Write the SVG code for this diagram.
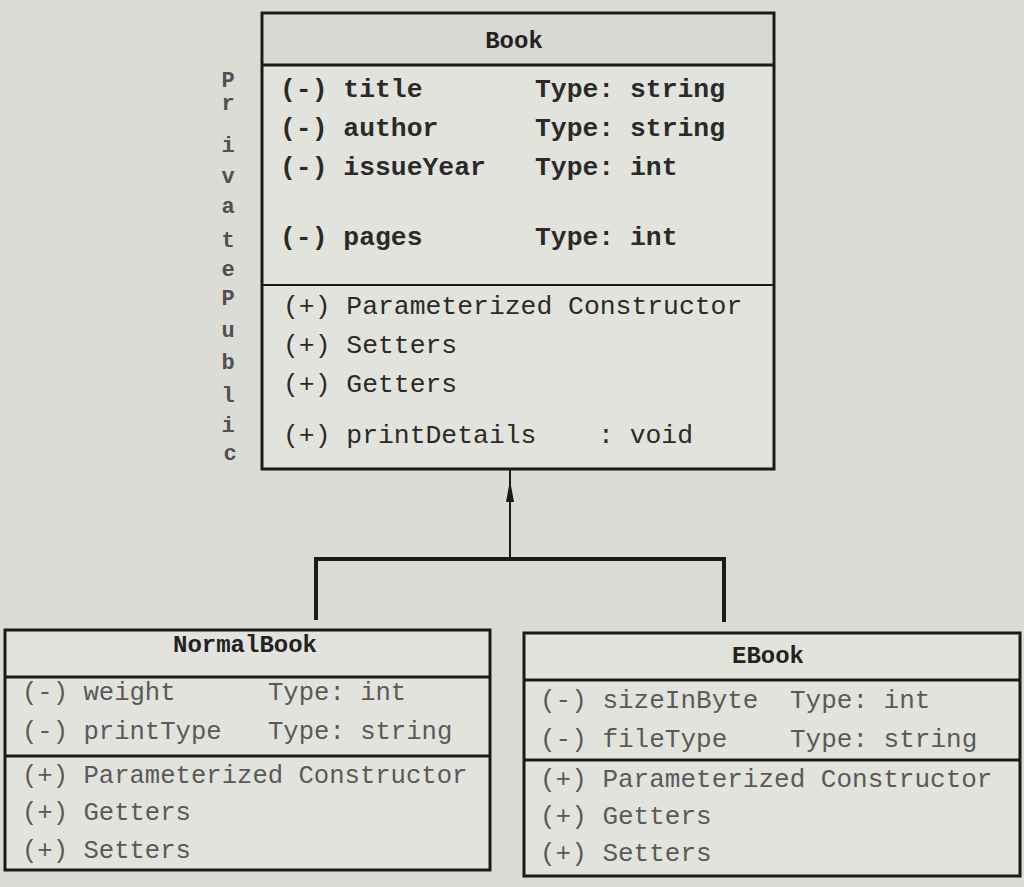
<svg xmlns="http://www.w3.org/2000/svg" width="1024" height="887" viewBox="0 0 1024 887">
<style>
.box{fill:#e3e3de;stroke:#1a1a1a;stroke-width:3}
.hdr{fill:#d9d9d4}
.sep{stroke:#1a1a1a;stroke-width:3}
.t{font-family:"Liberation Mono","Courier New",monospace;font-size:26.4px;fill:#2a2a2a}
.n{font-size:25.6px}
.e{font-size:26px}
.b{font-weight:bold}
.g{fill:#5a5a5a}
.h{font-family:"Liberation Mono","Courier New",monospace;font-size:24px;font-weight:bold;fill:#222;text-anchor:middle}
.v{font-family:"Liberation Mono","Courier New",monospace;font-size:22px;font-weight:bold;fill:#505050;text-anchor:middle}
.conn{fill:none;stroke:#1a1a1a}
</style>
<defs>
<marker id="arr" markerWidth="22" markerHeight="8" refX="21" refY="4" orient="auto" markerUnits="userSpaceOnUse" viewBox="0 0 22 8">
<path d="M22,4 L0,0 L0,8 Z" fill="#1a1a1a"/>
</marker>
</defs>
<rect width="1024" height="887" fill="#dcdcd7"/>

<g id="label-private-public">
<text class="v" x="228" y="87">P</text>
<text class="v" x="228" y="110">r</text>
<text class="v" x="228" y="152">i</text>
<text class="v" x="228" y="183">v</text>
<text class="v" x="228" y="213">a</text>
<text class="v" x="228" y="247">t</text>
<text class="v" x="228" y="276">e</text>
<text class="v" x="228" y="305">P</text>
<text class="v" x="228" y="337">u</text>
<text class="v" x="228" y="369">b</text>
<text class="v" x="228" y="402">l</text>
<text class="v" x="228" y="432">i</text>
<text class="v" x="230" y="460">c</text>
</g>

<g id="book">
<rect class="box" x="262" y="13" width="512" height="456"/>
<rect class="hdr" x="264" y="15" width="508" height="49"/>
<line class="sep" x1="262" y1="65" x2="774" y2="65"/>
<line class="sep" x1="262" y1="285" x2="774" y2="285" style="stroke-width:2"/>
<text class="h" x="514" y="48">Book</text>
<text class="t b" x="280" y="97">(-) title</text>
<text class="t b" x="535" y="97">Type: string</text>
<text class="t b" x="280" y="136">(-) author</text>
<text class="t b" x="535" y="136">Type: string</text>
<text class="t b" x="280" y="175">(-) issueYear</text>
<text class="t b" x="535" y="175">Type: int</text>
<text class="t b" x="280" y="245">(-) pages</text>
<text class="t b" x="535" y="245">Type: int</text>
<text class="t" x="283" y="314">(+) Parameterized Constructor</text>
<text class="t" x="283" y="353">(+) Setters</text>
<text class="t" x="283" y="392">(+) Getters</text>
<text class="t" x="283" y="443">(+) printDetails</text>
<text class="t" x="598" y="443">: void</text>
</g>

<g id="connectors">
<path class="conn" d="M510,558 L510,481 L510,470" stroke-width="2" marker-mid="url(#arr)"/>
<path class="conn" d="M316,620 V559 H724 V622" stroke-width="4"/>
</g>

<g id="normalbook">
<rect class="box" x="5" y="630" width="485" height="240"/>
<line class="sep" x1="5" y1="677" x2="490" y2="677"/>
<line class="sep" x1="5" y1="756" x2="490" y2="756"/>
<text class="h" x="245" y="652">NormalBook</text>
<text class="t n g" x="22" y="700">(-) weight</text>
<text class="t n g" x="268" y="700">Type: int</text>
<text class="t n g" x="22" y="739">(-) printType</text>
<text class="t n g" x="268" y="739">Type: string</text>
<text class="t n g" x="22" y="783">(+) Parameterized Constructor</text>
<text class="t n g" x="22" y="820">(+) Getters</text>
<text class="t n g" x="22" y="858">(+) Setters</text>
</g>

<g id="ebook">
<rect class="box" x="524" y="633" width="496" height="243"/>
<line class="sep" x1="524" y1="680" x2="1020" y2="680"/>
<line class="sep" x1="524" y1="760" x2="1020" y2="760"/>
<text class="h" x="768" y="663">EBook</text>
<text class="t e g" x="540" y="708">(-) sizeInByte</text>
<text class="t e g" x="790" y="708">Type: int</text>
<text class="t e g" x="540" y="747">(-) fileType</text>
<text class="t e g" x="790" y="747">Type: string</text>
<text class="t e g" x="540" y="787">(+) Parameterized Constructor</text>
<text class="t e g" x="540" y="824">(+) Getters</text>
<text class="t e g" x="540" y="861">(+) Setters</text>
</g>
</svg>
